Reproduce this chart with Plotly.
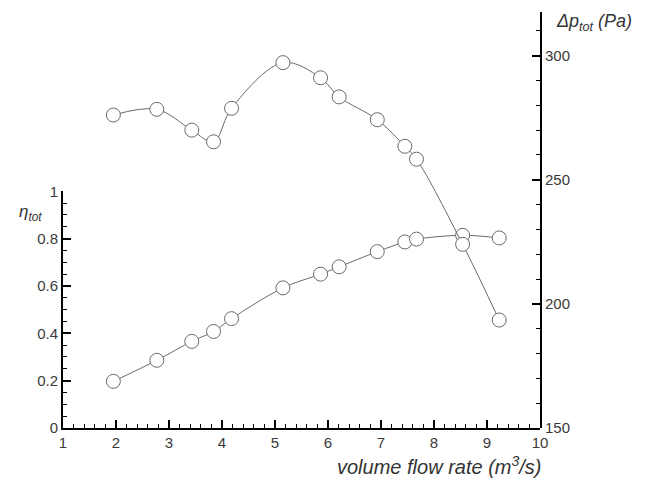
import plotly.graph_objects as go

# Data
flow_rate = [1.95, 2.77, 3.43, 3.84, 4.18, 5.15, 5.86, 6.21, 6.93, 7.45, 7.67, 8.54, 9.23]
eta_tot = [0.197, 0.286, 0.366, 0.408, 0.462, 0.592, 0.650, 0.681, 0.745, 0.786, 0.798, 0.814, 0.803]
dp_tot = [276.1, 278.4, 270.0, 265.3, 278.8, 297.2, 291.1, 283.4, 274.2, 263.5, 258.3, 224.0, 193.5]

line_col = "#6a6a6a"
font_family = "Liberation Sans, Arial, sans-serif"
tick_font = dict(family=font_family, size=15, color="#3a3a3a")

# page body has an 8px margin: figure is sized/offset to compensate
OFF = 8
W, H = 652 - OFF, 481 - OFF
ML, MR, MT, MB = 63 - OFF, 112, 12 - OFF, 53

fig = go.Figure()
common = dict(
    mode="lines+markers",
    line=dict(shape="spline", color=line_col, width=1),
    marker=dict(symbol="circle", size=14, color="white", line=dict(color=line_col, width=1)),
    showlegend=False,
    hoverinfo="skip",
)
fig.add_trace(go.Scatter(x=flow_rate, y=dp_tot, xaxis="x", yaxis="y2", **common))
fig.add_trace(go.Scatter(x=flow_rate, y=eta_tot, xaxis="x", yaxis="y", **common))

axis_common = dict(
    showline=True, linecolor="black", linewidth=2,
    ticks="inside", tickcolor="black", tickwidth=2, ticklen=8,
    showgrid=False, zeroline=False, tickfont=tick_font, automargin=False,
)

fig.update_layout(
    width=W, height=H,
    margin=dict(l=ML, r=MR, t=MT, b=MB, autoexpand=False),
    paper_bgcolor="white", plot_bgcolor="rgba(0,0,0,0)",
    xaxis=dict(range=[1, 10], domain=[0, 1], anchor="y", dtick=1, tick0=1,
               minor=dict(ticks="inside", ticklen=4, tickcolor="black", tickwidth=1, dtick=0.2, tick0=1),
               **axis_common),
    yaxis=dict(range=[0, 1], domain=[0, 0.569], anchor="x", side="left", dtick=0.2, tick0=0,
               minor=dict(ticks="inside", ticklen=4, tickcolor="black", tickwidth=1, dtick=0.05, tick0=0),
               **axis_common),
    yaxis2=dict(range=[150, 317.6], domain=[0, 1], anchor="x", side="right", dtick=50, tick0=150,
                minor=dict(ticks="inside", ticklen=4, tickcolor="black", tickwidth=1, dtick=10, tick0=150),
                **axis_common),
)

# annotations given in reference-screenshot pixels, converted to paper coords
pw = W - ML - MR
ph = H - MT - MB
def px_to_paper(xp, yp):
    return (xp - OFF - ML) / pw, (H - MB - (yp - OFF)) / ph

labels = [
    ("<i>η<sub>tot</sub></i>", 17, 213, "left", 17),
    ("<i>Δp<sub>tot</sub> (Pa)</i>", 554, 22, "left", 18),
    ("<i>volume flow rate (m<sup>3</sup>/s)</i>", 544, 466, "right", 20),
]
for text, xp, yp, anchor, size in labels:
    ax, ay = px_to_paper(xp, yp)
    fig.add_annotation(text=text, x=ax, y=ay, xref="paper", yref="paper", showarrow=False,
                       xanchor=anchor, yanchor="middle",
                       font=dict(family=font_family, size=size, color="#333333"))

fig.write_html("out.html")
